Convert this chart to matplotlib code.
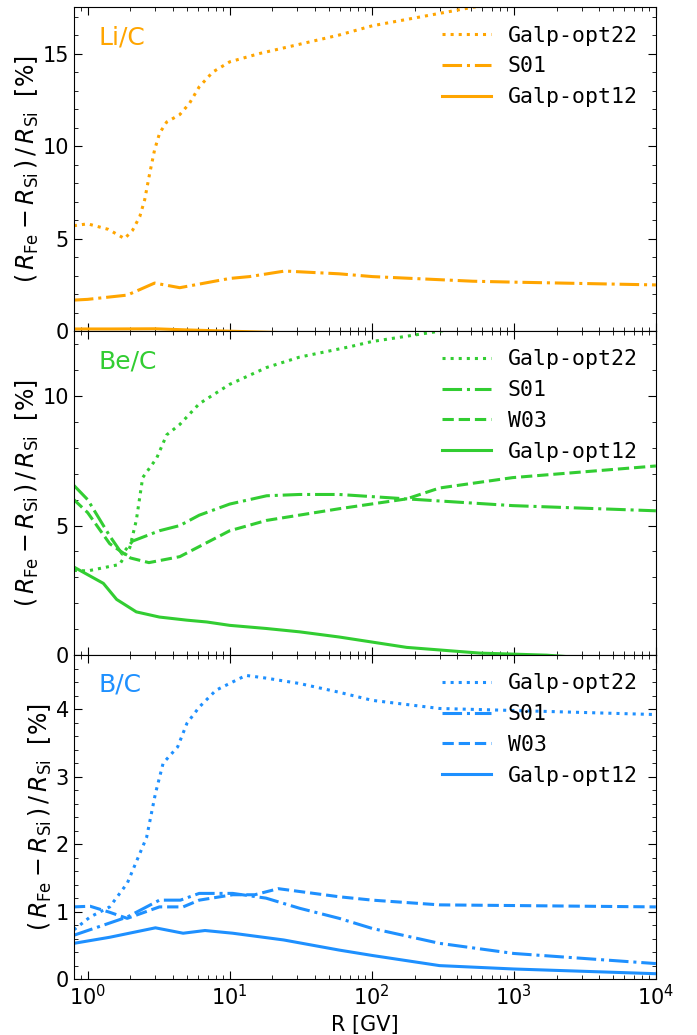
import matplotlib.pyplot as plt
import numpy as np
from matplotlib.ticker import MultipleLocator

# ---- Li/C ----
li_opt22_R = [0.8, 1.0, 1.4, 1.82, 2.07, 2.33, 2.52, 2.73, 2.96, 3.21, 3.6, 4.45, 5.2, 6.1, 7.6, 10, 16.2, 31, 59, 101, 514, 2000, 10000]
li_opt22_v = [5.7, 5.8, 5.5, 5.0, 5.45, 6.2, 7.1, 8.5, 9.8, 10.7, 11.3, 11.7, 12.3, 13.2, 14.0, 14.55, 15.0, 15.5, 16.0, 16.5, 17.5, 18.2, 19.0]
li_s01_R = [0.8, 1.0, 1.9, 2.96, 4.45, 10, 13.8, 24.4, 59, 101, 514, 1000, 10000]
li_s01_v = [1.68, 1.72, 1.95, 2.6, 2.35, 2.85, 2.95, 3.25, 3.1, 2.95, 2.7, 2.65, 2.5]
li_opt12_R = [0.8, 1.5, 3.0, 5.0, 10, 30, 100, 1000, 10000]
li_opt12_v = [0.12, 0.12, 0.13, 0.07, 0.0, -0.1, -0.2, -0.4, -0.5]

# ---- Be/C ----
be_opt22_R = [0.8, 1.0, 1.68, 1.98, 2.2, 2.44, 3.06, 3.6, 4.45, 6.1, 10, 18.2, 31, 70, 100, 300, 1000, 10000]
be_opt22_v = [3.27, 3.25, 3.5, 4.15, 5.2, 6.85, 7.6, 8.5, 8.9, 9.7, 10.45, 11.1, 11.5, 11.9, 12.1, 12.5, 12.9, 13.5]
be_s01_R = [0.8, 1.0, 1.43, 1.75, 2.07, 3.2, 4.45, 6.1, 10, 18.2, 31, 59, 176, 980, 10000]
be_s01_v = [6.55, 6.0, 4.6, 3.9, 4.4, 4.8, 5.0, 5.4, 5.83, 6.15, 6.2, 6.2, 6.03, 5.77, 5.57]
be_w03_R = [0.8, 1.0, 1.43, 2.0, 2.7, 4.45, 10, 18.2, 59, 176, 300, 980, 10000]
be_w03_v = [6.0, 5.5, 4.3, 3.75, 3.57, 3.8, 4.8, 5.2, 5.65, 6.03, 6.45, 6.85, 7.3]
be_opt12_R = [0.8, 1.29, 1.6, 2.2, 3.2, 5.0, 6.9, 10, 18, 31, 59, 176, 573, 1700, 10000]
be_opt12_v = [3.4, 2.77, 2.15, 1.67, 1.47, 1.35, 1.28, 1.15, 1.03, 0.9, 0.7, 0.3, 0.08, 0.0, -0.3]

# ---- B/C ----
b_opt22_R = [0.8, 1.04, 1.43, 1.9, 2.6, 3.0, 3.4, 4.3, 5.0, 6.1, 8.0, 13, 18, 31, 59, 101, 300, 1000, 10000]
b_opt22_v = [0.73, 0.92, 1.07, 1.42, 2.1, 2.75, 3.2, 3.44, 3.79, 4.03, 4.28, 4.5, 4.46, 4.38, 4.25, 4.13, 4.01, 3.98, 3.92]
b_s01_R = [0.8, 1.9, 3.2, 4.5, 6.1, 10.5, 18, 31, 59, 101, 300, 1000, 10000]
b_s01_v = [0.65, 0.92, 1.17, 1.17, 1.27, 1.27, 1.2, 1.05, 0.9, 0.75, 0.53, 0.38, 0.23]
b_w03_R = [0.8, 1.04, 1.43, 1.9, 3.2, 4.7, 6.1, 10.5, 15, 22, 59, 101, 300, 1000, 10000]
b_w03_v = [1.07, 1.08, 0.99, 0.9, 1.07, 1.07, 1.17, 1.25, 1.25, 1.34, 1.22, 1.17, 1.1, 1.09, 1.07]
b_opt12_R = [0.8, 1.43, 3.0, 4.7, 6.7, 10.5, 24, 59, 101, 300, 1000, 10000]
b_opt12_v = [0.53, 0.62, 0.76, 0.68, 0.72, 0.68, 0.58, 0.43, 0.35, 0.2, 0.15, 0.08]

panels = [
    ("Li/C", "orange", 17.5, 5, 1,
     [(li_opt22_R, li_opt22_v, ":", "Galp-opt22"),
      (li_s01_R, li_s01_v, "-.", "S01"),
      (li_opt12_R, li_opt12_v, "-", "Galp-opt12")]),
    ("Be/C", "limegreen", 12.5, 5, 1,
     [(be_opt22_R, be_opt22_v, ":", "Galp-opt22"),
      (be_s01_R, be_s01_v, "-.", "S01"),
      (be_w03_R, be_w03_v, "--", "W03"),
      (be_opt12_R, be_opt12_v, "-", "Galp-opt12")]),
    ("B/C", "dodgerblue", 4.8, 1, 0.2,
     [(b_opt22_R, b_opt22_v, ":", "Galp-opt22"),
      (b_s01_R, b_s01_v, "-.", "S01"),
      (b_w03_R, b_w03_v, "--", "W03"),
      (b_opt12_R, b_opt12_v, "-", "Galp-opt12")]),
]

fig, axes = plt.subplots(3, 1, figsize=(6.97, 10.35), dpi=100, sharex=True)
fig.subplots_adjust(left=0.106, right=0.941, top=0.993, bottom=0.054, hspace=0)

ylab = r"$(\,R_{\rm Fe}-R_{\rm Si}\,)\,/\,R_{\rm Si}$  [%]"
for ax, (name, col, ymax, major, minor, series) in zip(axes, panels):
    for R, v, ls, lab in series:
        ax.plot(R, v, ls=ls, color=col, lw=2.2, label=lab)
    ax.set_xscale("log")
    ax.set_xlim(0.8, 1e4)
    ax.set_ylim(0, ymax)
    ax.yaxis.set_major_locator(MultipleLocator(major))
    ax.yaxis.set_minor_locator(MultipleLocator(minor))
    ax.tick_params(which="both", direction="in", top=True, right=True, labelsize=15)
    ax.tick_params(which="major", length=6)
    ax.tick_params(which="minor", length=3)
    ax.text(0.042, 0.945, name, transform=ax.transAxes, color=col, fontsize=18, va="top")
    ax.legend(loc="upper right", frameon=False, prop={"family": "DejaVu Sans Mono", "size": 15.5},
              borderaxespad=0.45, labelspacing=0.5, handlelength=2.3, handletextpad=0.75)
    ax.set_ylabel(ylab, fontsize=17, labelpad=1)

axes[-1].set_xlabel("R [GV]", fontsize=15)
fig.savefig("out.png")
